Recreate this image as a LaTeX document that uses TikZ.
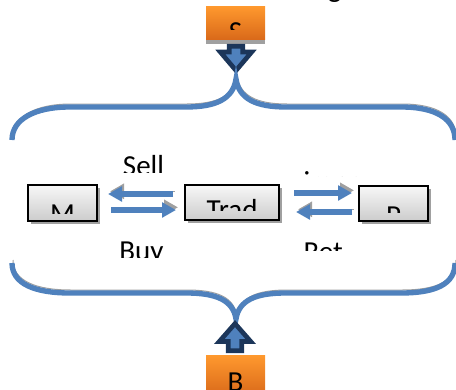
\documentclass[tikz,border=0pt]{standalone}
\usepackage{fontspec}
\setmainfont{Carlito}
\usetikzlibrary{arrows.meta,shadows,calc}

\definecolor{braceblue}{RGB}{79,129,189}
\definecolor{navyline}{RGB}{28,54,90}
\definecolor{shadowgray}{RGB}{160,160,160}
\definecolor{orangetop}{RGB}{255,153,46}
\definecolor{orangebot}{RGB}{218,106,26}
\newcommand{\lblfont}{\fontsize{21.75pt}{26pt}\selectfont}

\tikzset{every picture/.style={line width=0.75pt}}
\tikzset{
  greybox/.style={draw=black, line width=1.5pt, top color=black!3, bottom color=black!20, inner sep=0pt,
    drop shadow={shadow xshift=2pt, shadow yshift=-2pt, fill=shadowgray, opacity=1}},
  orangebox/.style={top color=orangetop, bottom color=orangebot, inner sep=0pt,
    minimum width=44.25pt, drop shadow={shadow xshift=0pt, shadow yshift=-3.5pt, fill=shadowgray, opacity=1}},
  flowarrow/.style={draw=braceblue, line width=4.25pt, -{Triangle[length=10.5pt,width=11pt]},
    preaction={draw=shadowgray, transform canvas={shift={(1.5pt,2pt)}}}},
  bracepath/.style={draw=braceblue, line width=4pt,
    preaction={draw=shadowgray, transform canvas={shift={(0.75pt,2.25pt)}}}},
  blockarrow/.style={draw=navyline, fill=braceblue, line width=3.5pt, miter limit=10},
  lbl/.style={inner sep=0pt, font=\lblfont}
}

\begin{document}
\begin{tikzpicture}[x=0.75pt,y=0.75pt,yscale=-1,xscale=1]
\useasboundingbox (0,0) rectangle (456,389);
\clip (0,0) rectangle (456,389);

% Text Node (caption, cut at the top edge)
\node [lbl, anchor=base west] (caption) at (289,-2.5) {Diagram of the};

%Shape: Rectangle [top source]
\node [orangebox, minimum height=24.75pt] (S) at (235.5,22.5) {};
\begin{scope}
  \clip (206,6) rectangle (265,29);
  \node [lbl, anchor=base] (Stext) at (235.5,41.7) {S};
\end{scope}

%Shape: Down Arrow
\draw [blockarrow] (229.3,46.3) -- (242.7,46.3) -- (242.7,52) -- (251.7,52) -- (236,70.5) -- (220.3,52) -- (229.3,52) -- cycle ;

%Curve Lines [top brace]
\draw [bracepath] (12,140) .. controls (12,119) and (35,107) .. (70,107) -- (186,107) .. controls (216,107) and (233,99) .. (236,79) .. controls (239,99) and (256,107) .. (286,107) -- (401,107) .. controls (436,107) and (455,119) .. (455,140) ;

%Shape: Rectangle [boxes]
\node [greybox, minimum width=51.75pt, minimum height=27pt] (M) at (62.5,203) {};
\node [greybox, minimum width=70.5pt, minimum height=26.25pt] (Trad) at (232,202.5) {};
\node [greybox, minimum width=51.75pt, minimum height=26.25pt] (P) at (393.5,203.5) {};

% Text Node
\begin{scope}
  \clip (28,186) rectangle (97,213);
  \node [lbl, anchor=base] (Mtext) at (62.5,223.7) {M};
\end{scope}
% Text Node
\begin{scope}
  \clip (185,186) rectangle (279,210);
  \node [lbl, anchor=base] (Tradtext) at (232,219.7) {Trad};
\end{scope}
% Text Node
\begin{scope}
  \clip (359,187) rectangle (428,212.5);
  \node [lbl, anchor=base] (Ptext) at (393.5,225.7) {P};
\end{scope}

%Straight Lines [arrows between boxes]
\draw [flowarrow] ($(Trad.west)+(-11,-8.5)$) -- ($(M.east)+(10,-9)$) ;
\draw [flowarrow] ($(M.east)+(13,7)$) -- ($(Trad.west)+(-8,7.5)$) ;
\draw [flowarrow] ($(Trad.east)+(14,-9.5)$) -- ($(P.west)+(-6,-10.5)$) ;
\draw [flowarrow] ($(P.west)+(-6,8.5)$) -- ($(Trad.east)+(16,9.5)$) ;

% Text Node
\begin{scope}
  \clip (100,140) rectangle (190,172);
  \node [lbl, anchor=base] (sell) at (143.5,175.5) {Sell};
\end{scope}
% Text Node
\begin{scope}
  \clip (290,160) rectangle (360,176);
  \node [lbl, anchor=base west] (imp) at (303,191.5) {import};
\end{scope}
% Text Node
\begin{scope}
  \clip (100,230) rectangle (190,257.5);
  \node [lbl, anchor=base] (buy) at (141.5,260.7) {Buy};
\end{scope}
% Text Node
\begin{scope}
  \clip (290,230) rectangle (360,250);
  \node [lbl, anchor=base west] (ret) at (303,261.7) {Ret};
\end{scope}

%Curve Lines [bottom brace]
\draw [bracepath] (12,263) .. controls (12,284) and (35,293) .. (70,293) -- (186,293) .. controls (216,293) and (233,300) .. (236,319) .. controls (239,300) and (256,293) .. (286,293) -- (401,293) .. controls (436,293) and (455,284) .. (455,263) ;

%Shape: Up Arrow
\draw [blockarrow] (228.3,350.7) -- (241.7,350.7) -- (241.7,341.5) -- (250.7,341.5) -- (235,323.6) -- (219.3,341.5) -- (228.3,341.5) -- cycle ;

%Shape: Rectangle [bottom source]
\node [orangebox, minimum height=30pt] (B) at (235.5,375) {};
\node [lbl, anchor=base] (Btext) at (235.5,391) {B};

\end{tikzpicture}
\end{document}
